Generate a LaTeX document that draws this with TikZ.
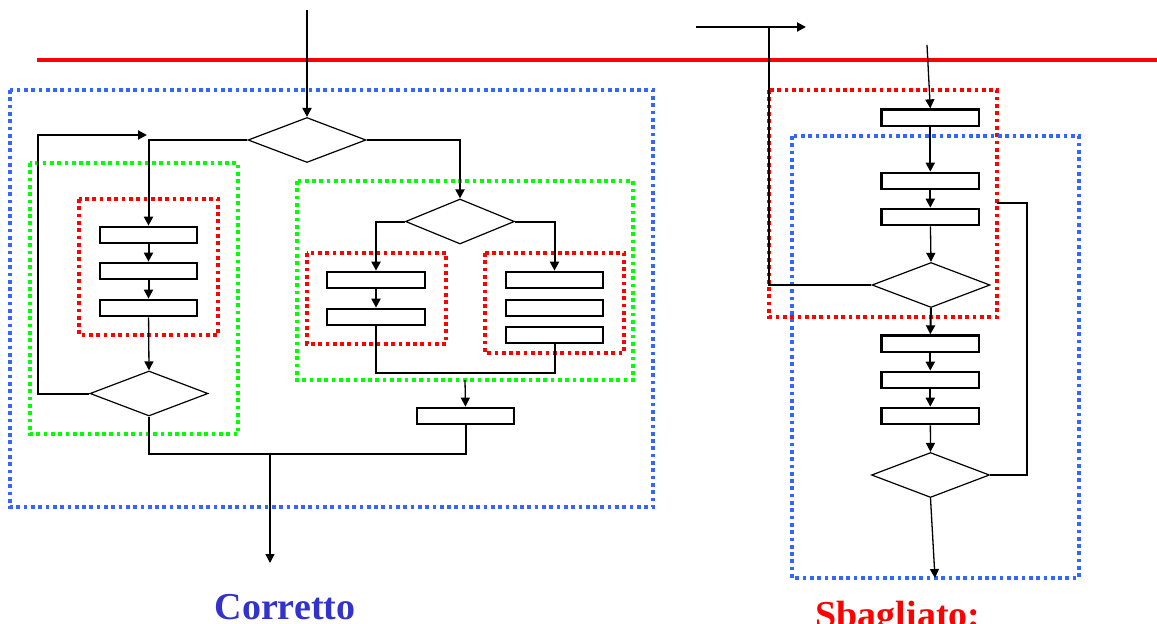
\documentclass[tikz,border=0pt]{standalone}
\usepackage{fontspec}
\setmainfont{Liberation Serif}
\usetikzlibrary{shapes.geometric,arrows.meta}
\definecolor{grpblue}{RGB}{51,102,255}
\definecolor{grpgreen}{RGB}{0,255,0}
\definecolor{grpred}{RGB}{255,0,0}
\definecolor{okblue}{RGB}{51,51,204}
\tikzset{
  stepbox/.style={draw, rectangle, line width=2.2pt, minimum width=97.5pt, minimum height=16.5pt, inner sep=0pt},
  testbox/.style={draw, diamond, line width=1.2pt, minimum width=#1, minimum height=45pt, inner sep=0pt},
  testbox/.default=118pt,
  flow/.style={line width=2pt},
  flowarr/.style={line width=2pt, -{Triangle[length=9pt,width=9pt]}},
  thinarr/.style={line width=1.3pt, -{Triangle[length=9pt,width=9pt]}},
  grp/.style={line width=4pt, dash pattern=on 3.7pt off 3.6pt},
  title/.style={font=\bfseries\fontsize{38}{40}\selectfont, inner sep=0pt, anchor=base, text depth=0pt}
}
\begin{document}
\begin{tikzpicture}[x=1pt,y=-1pt]
\useasboundingbox (0,0) rectangle (1157,624);

% separator
\draw[grpred, line width=4pt] (37,60) -- (1157,60);

% ---------- left flowchart ----------
\draw[grp, grpblue] (10,90) rectangle (653,507);
\draw[grp, grpgreen] (30,163) rectangle (238,434);
\draw[grp, grpred] (79,199) rectangle (218,335);
\draw[grp, grpgreen] (297,181) rectangle (633,380);
\draw[grp, grpred] (307,253) rectangle (446,344);
\draw[grp, grpred] (485,253) rectangle (624,353);

\node[testbox] (d1) at (307,140) {};
\node[stepbox] (r1) at (148.5,235) {};
\node[stepbox] (r2) at (148.5,271) {};
\node[stepbox] (r3) at (148.5,308) {};
\node[testbox] (d2) at (149,393.5) {};
\node[testbox=109pt] (d3) at (460,221.5) {};
\node[stepbox] (a1) at (376,280) {};
\node[stepbox] (a2) at (376,317) {};
\node[stepbox] (b1) at (554.5,280) {};
\node[stepbox] (b2) at (554.5,308) {};
\node[stepbox] (b3) at (554.5,335) {};
\node[stepbox] (c1) at (465.5,416) {};

\coordinate (inL) at (307,10);
\coordinate (fb) at (147,135);
\coordinate (jn) at (465,373);
\coordinate (jo) at (465,380);
\coordinate (jb) at (270,454);
\coordinate (outL) at (270,563);

\draw[flowarr] (inL) -- (d1.north);
\draw[flowarr] (d1.west) -| (r1.north);
\draw[flowarr] (r1) -- (r2);
\draw[flowarr] (r2) -- (r3);
\draw[thinarr] (r3) -- (d2.north);
\draw[flowarr] (d2.west) -| (38,135) -- (fb);
\draw[flowarr] (d1.east) -| (d3.north);
\draw[flowarr] (d3.west) -| (a1.north);
\draw[flowarr] (a1) -- (a2);
\draw[flowarr] (d3.east) -| (b1.north);
\draw[flow] (a2.south) |- (jn) -| (b3.south);
\draw[thinarr] (jo) -- (c1.north);
\draw[flow] (d2.south) |- (jb) -| (c1.south);
\draw[thinarr] (jb) -- (outL);

\node[title, text=okblue] (ok) at (285,619) {Corretto};

% ---------- right flowchart ----------
\draw[grp, grpred] (769,90) rectangle (997,317);
\draw[grp, grpblue] (792,136) rectangle (1079,578);

\node[stepbox] (s1) at (930.3,117.7) {};
\node[stepbox] (s2) at (930.3,181) {};
\node[stepbox] (s3) at (930.3,217) {};
\node[testbox] (e1) at (931,285) {};
\node[stepbox] (s4) at (930.3,343.7) {};
\node[stepbox] (s5) at (930.3,380) {};
\node[stepbox] (s6) at (930.3,416) {};
\node[testbox] (e2) at (930.5,475) {};

\coordinate (inA) at (696,27);
\coordinate (inB) at (806,27);
\coordinate (back) at (769,27);
\coordinate (inR) at (927,45);
\coordinate (jump) at (997,203);
\coordinate (outR) at (935,578);

\draw[flowarr] (inA) -- (inB);
\draw[flow] (e1.west) -| (back);
\draw[thinarr] (inR) -- (s1.north);
\draw[flowarr] (s1) -- (s2);
\draw[flowarr] (s2) -- (s3);
\draw[thinarr] (s3) -- (e1.north);
\draw[flowarr] (e1.south) -- (s4.north);
\draw[flowarr] (s4) -- (s5);
\draw[flowarr] (s5) -- (s6);
\draw[thinarr] (s6) -- (e2.north);
\draw[flow] (e2.east) -| (1027,203) -- (jump);
\draw[thinarr] (e2.south) -- (outR);

\node[title, text=grpred] (ko) at (898,627) {Sbagliato:};
\end{tikzpicture}
\end{document}
